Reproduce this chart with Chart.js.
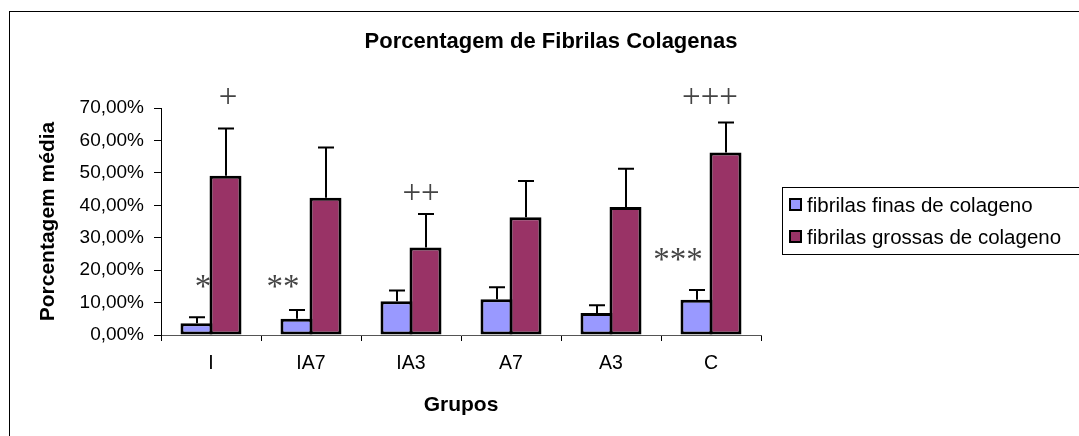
<!DOCTYPE html>
<html>
<head>
<meta charset="utf-8">
<script src="https://cdn.jsdelivr.net/npm/chart.js@4.4.1/dist/chart.umd.min.js"></script>
<style>
  html, body { margin: 0; padding: 0; background: #fff; }
  canvas { display: block; }
</style>
</head>
<body>
<canvas id="chart" width="1079" height="436"></canvas>
<script>
// Groups and mean percentages (with upper error bar lengths)
const categories = ['I', 'IA7', 'IA3', 'A7', 'A3', 'C'];
const finas = [3.6, 5.0, 10.4, 11.0, 6.8, 10.9];
const finasErr = [1.9, 2.7, 3.3, 3.7, 2.4, 3.0];
const grossas = [49.1, 42.3, 27.0, 36.3, 39.5, 56.3];
const grossasErr = [14.6, 15.5, 10.3, 11.2, 11.8, 9.2];
const yTicks = [0, 10, 20, 30, 40, 50, 60, 70];

// Significance markers: text, position on the category axis, value on the y axis
const markText = ['*', '**', '***', '+', '++', '+++'];
const markPos = [-0.08, 0.72, 4.67, 0.17, 2.10, 4.99];
const markVal = [16.6, 16.5, 24.8, 73.8, 44.1, 73.7];

const SANS = '"Liberation Sans", Arial, sans-serif';
const SERIF = '"Liberation Serif", "Times New Roman", serif';

const pct = v => v.toFixed(2).replace('.', ',') + '%';

// White page, outer frame and chart title
const framePlugin = {
  id: 'frame',
  beforeDraw(chart) {
    const ctx = chart.ctx;
    ctx.save();
    ctx.fillStyle = '#fff';
    ctx.fillRect(0, 0, chart.width, chart.height);
    ctx.strokeStyle = '#000';
    ctx.lineWidth = 1;
    ctx.strokeRect(9.5, 11.5, chart.width + 20, chart.height + 20);
    ctx.fillStyle = '#000';
    ctx.font = 'bold 22px ' + SANS;
    ctx.textAlign = 'center';
    ctx.textBaseline = 'middle';
    ctx.fillText('Porcentagem de Fibrilas Colagenas', 551, 42);
    ctx.restore();
  }
};

// Upper error bars with caps
const errorBarPlugin = {
  id: 'errorBars',
  afterDatasetsDraw(chart) {
    const ctx = chart.ctx;
    const y = chart.scales.y;
    ctx.save();
    ctx.strokeStyle = '#000';
    ctx.lineWidth = 2;
    chart.data.datasets.forEach((ds, i) => {
      const meta = chart.getDatasetMeta(i);
      meta.data.forEach((bar, j) => {
        const top = y.getPixelForValue(ds.data[j] + ds.errors[j]);
        const x = Math.round(bar.x);
        ctx.beginPath();
        ctx.moveTo(x, bar.y);
        ctx.lineTo(x, top);
        ctx.moveTo(x - 8, top);
        ctx.lineTo(x + 8, top);
        ctx.stroke();
      });
    });
    ctx.restore();
  }
};

// Significance markers and boxed legend
const overlayPlugin = {
  id: 'overlay',
  afterDraw(chart) {
    const ctx = chart.ctx;
    const xs = chart.scales.x, ys = chart.scales.y;
    ctx.save();
    ctx.fillStyle = '#444';
    ctx.font = '33px ' + SERIF;
    ctx.textAlign = 'center';
    ctx.textBaseline = 'alphabetic';
    markText.forEach((t, i) => {
      const m = ctx.measureText(t);
      const cx = xs.getPixelForValue(markPos[i]);
      const cy = ys.getPixelForValue(markVal[i]);
      const base = cy + (m.actualBoundingBoxAscent - m.actualBoundingBoxDescent) / 2;
      ctx.fillText(t, cx, base);
    });

    // legend
    const lx = 782.5, ly = 187.5;
    ctx.strokeStyle = '#000';
    ctx.lineWidth = 1;
    ctx.strokeRect(lx, ly, 400, 67);
    ctx.font = '20.5px ' + SANS;
    ctx.textAlign = 'left';
    ctx.textBaseline = 'middle';
    chart.data.datasets.forEach((ds, i) => {
      const rowY = Math.round(205 + i * 31.5);
      ctx.fillStyle = ds.backgroundColor;
      ctx.fillRect(790, rowY - 6, 11, 11);
      ctx.lineWidth = 2;
      ctx.strokeStyle = '#000';
      ctx.strokeRect(790, rowY - 6, 11, 11);
      ctx.fillStyle = '#000';
      ctx.fillText(ds.label, 807, rowY + 1);
    });
    ctx.restore();
  }
};

new Chart(document.getElementById('chart'), {
  type: 'bar',
  data: {
    labels: categories,
    datasets: [
      {
        label: 'fibrilas finas de colageno',
        data: finas,
        errors: finasErr,
        backgroundColor: '#9999FF',
        borderColor: '#000',
        borderWidth: 3,
        borderSkipped: false,
        categoryPercentage: 0.58,
        barPercentage: 1.103
      },
      {
        label: 'fibrilas grossas de colageno',
        data: grossas,
        errors: grossasErr,
        backgroundColor: '#993366',
        borderColor: '#000',
        borderWidth: 3,
        borderSkipped: false,
        categoryPercentage: 0.58,
        barPercentage: 1.103
      }
    ]
  },
  options: {
    responsive: false,
    animation: false,
    events: [],
    layout: { padding: { top: 108, right: 318, bottom: 0, left: 0 } },
    plugins: {
      legend: { display: false },
      title: { display: false },
      tooltip: { enabled: false }
    },
    scales: {
      x: {
        grid: { display: true, drawOnChartArea: false, offset: true, tickLength: 6, tickColor: '#000' },
        border: { display: true, color: '#555', width: 1 },
        ticks: { color: '#000', font: { family: SANS, size: 19.5 }, padding: 11, maxRotation: 0 },
        title: {
          display: true, text: 'Grupos', color: '#000',
          font: { family: SANS, size: 21, weight: 'bold' },
          padding: { top: 0, bottom: 18 }
        },
        afterFit(scale) { scale.height = 101; }
      },
      y: {
        min: 0, max: 70,
        afterBuildTicks(scale) { scale.ticks = yTicks.map(v => ({ value: v })); },
        grid: { display: true, drawOnChartArea: false, tickLength: 7, tickColor: '#000' },
        border: { display: true, color: '#000', width: 1 },
        ticks: { color: '#000', font: { family: SANS, size: 19 }, padding: 10, callback: v => pct(v) },
        title: {
          display: true, text: 'Porcentagem média', color: '#000',
          font: { family: SANS, size: 21, weight: 'bold' },
          padding: { top: 36, bottom: 0 }
        },
        afterFit(scale) { scale.width = 161; }
      }
    }
  },
  plugins: [framePlugin, errorBarPlugin, overlayPlugin]
});
</script>
</body>
</html>
